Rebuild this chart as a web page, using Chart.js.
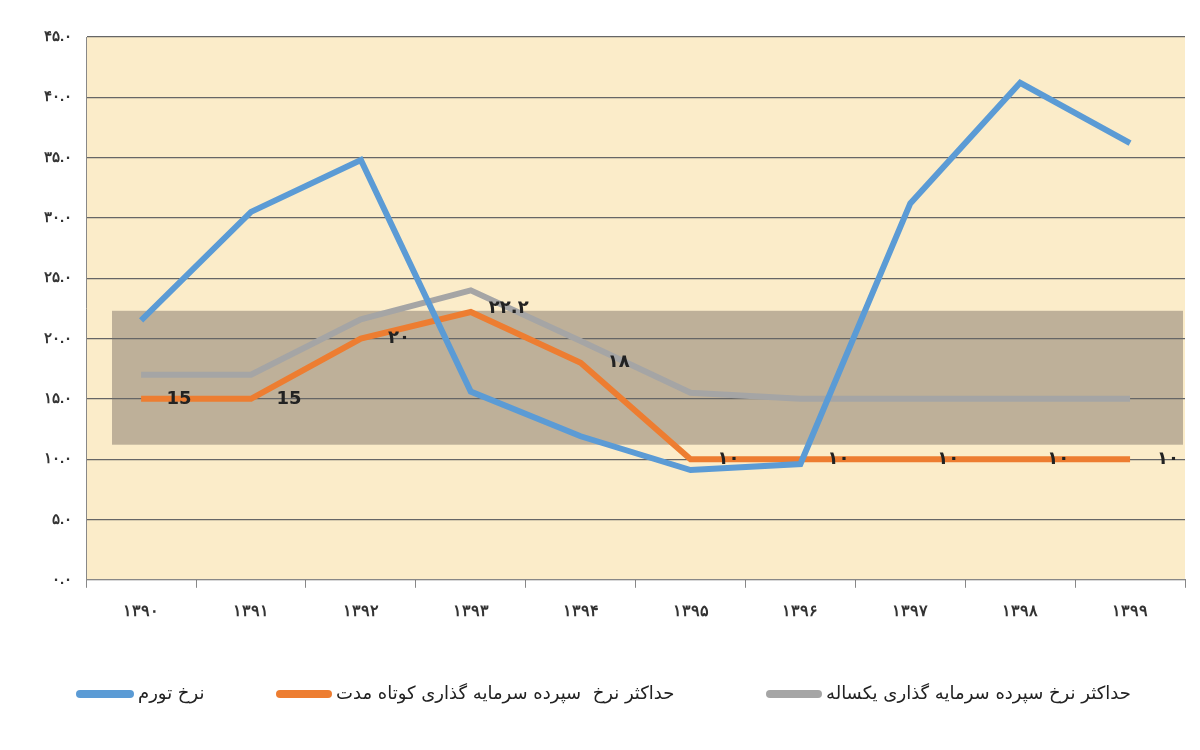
<!DOCTYPE html>
<html><head><meta charset="utf-8">
<script src="https://cdn.jsdelivr.net/npm/chart.js@4/dist/chart.umd.min.js"></script>
<style>html,body{margin:0;background:#fff}</style>
</head><body><canvas id="c" width="1200" height="750"></canvas>
<script>
const years = ['۱۳۹۰','۱۳۹۱','۱۳۹۲','۱۳۹۳','۱۳۹۴','۱۳۹۵','۱۳۹۶','۱۳۹۷','۱۳۹۸','۱۳۹۹'];
const inflation = [21.5,30.5,34.8,15.6,11.9,9.1,9.6,31.2,41.2,36.2];
const shortTerm = [15,15,20,22.2,18,10,10,10,10,10];
const oneYear = [17,17,21.6,24,19.8,15.5,15,15,15,15];
const shortLabels = ['15','15','۲۰','۲۲.۲','۱۸','۱۰','۱۰','۱۰','۱۰','۱۰'];
const names = ['نرخ تورم','حداکثر نرخ  سپرده سرمایه گذاری کوتاه مدت','حداکثر نرخ سپرده سرمایه گذاری یکساله'];
const fa = n => String(n).replace(/\d/g,d=>'۰۱۲۳۴۵۶۷۸۹'[d]);

const bg = {id:'bg',beforeDraw(c){const a=c.chartArea,x=c.ctx;x.save();x.fillStyle='#fbecc9';x.fillRect(a.left,a.top,a.right-a.left,a.bottom-a.top);
 const y=c.scales.y;x.fillStyle='rgba(115,105,95,0.45)';x.fillRect(112,y.getPixelForValue(22.3),1183-112,y.getPixelForValue(11.2)-y.getPixelForValue(22.3));x.restore();}};
const lbl = {id:'lbl',afterDatasetsDraw(c){const m=c.getDatasetMeta(1),x=c.ctx;x.save();x.font='bold 18px "DejaVu Sans"';x.fillStyle='#222';x.textBaseline='middle';x.textAlign='center';
 m.data.forEach((p,i)=>{x.fillText(shortLabels[i],p.x+38,p.y+(i===3?-4:0));});x.restore();}};
const leg = {id:'leg',afterDraw(c){const x=c.ctx;x.save();x.font='18px "DejaVu Sans"';x.textBaseline='middle';x.lineCap='round';x.lineWidth=8;
 const pos=[[80,50],[280,48],[770,48]];
 c.data.datasets.forEach((d,i)=>{const [l,w]=pos[i];x.strokeStyle=d.borderColor;x.beginPath();x.moveTo(l,694);x.lineTo(l+w,694);x.stroke();x.fillStyle='#222';x.fillText(d.label,l+w+8,694);});x.restore();}};

new Chart(document.getElementById('c'),{type:'line',
 data:{labels:years,datasets:[
  {label:names[0],data:inflation,borderColor:'#5b9bd5',backgroundColor:'#5b9bd5',borderWidth:6,pointRadius:0,tension:0},
  {label:names[1],data:shortTerm,borderColor:'#ed7d31',backgroundColor:'#ed7d31',borderWidth:6,pointRadius:0,tension:0},
  {label:names[2],data:oneYear,borderColor:'#a5a5a5',backgroundColor:'#a5a5a5',borderWidth:6,pointRadius:0,tension:0}]},
 options:{responsive:false,animation:false,devicePixelRatio:1,
  layout:{padding:{left:30,right:15,top:37,bottom:115}},
  plugins:{legend:{display:false},tooltip:{enabled:false}},
  scales:{
   x:{offset:true,grid:{offset:true,drawOnChartArea:false,color:'#888',tickLength:8},border:{color:'#888'},ticks:{color:'#333',font:{size:16,weight:'bold'},padding:14}},
   y:{min:0,max:45,grid:{color:'#666',lineWidth:1.2,drawTicks:false},border:{color:'#888'},ticks:{stepSize:5,color:'#333',padding:14,font:{size:15,weight:'bold'},callback:v=>fa(v.toFixed(1))}}}},
 plugins:[bg,lbl,leg]});
</script></body></html>
